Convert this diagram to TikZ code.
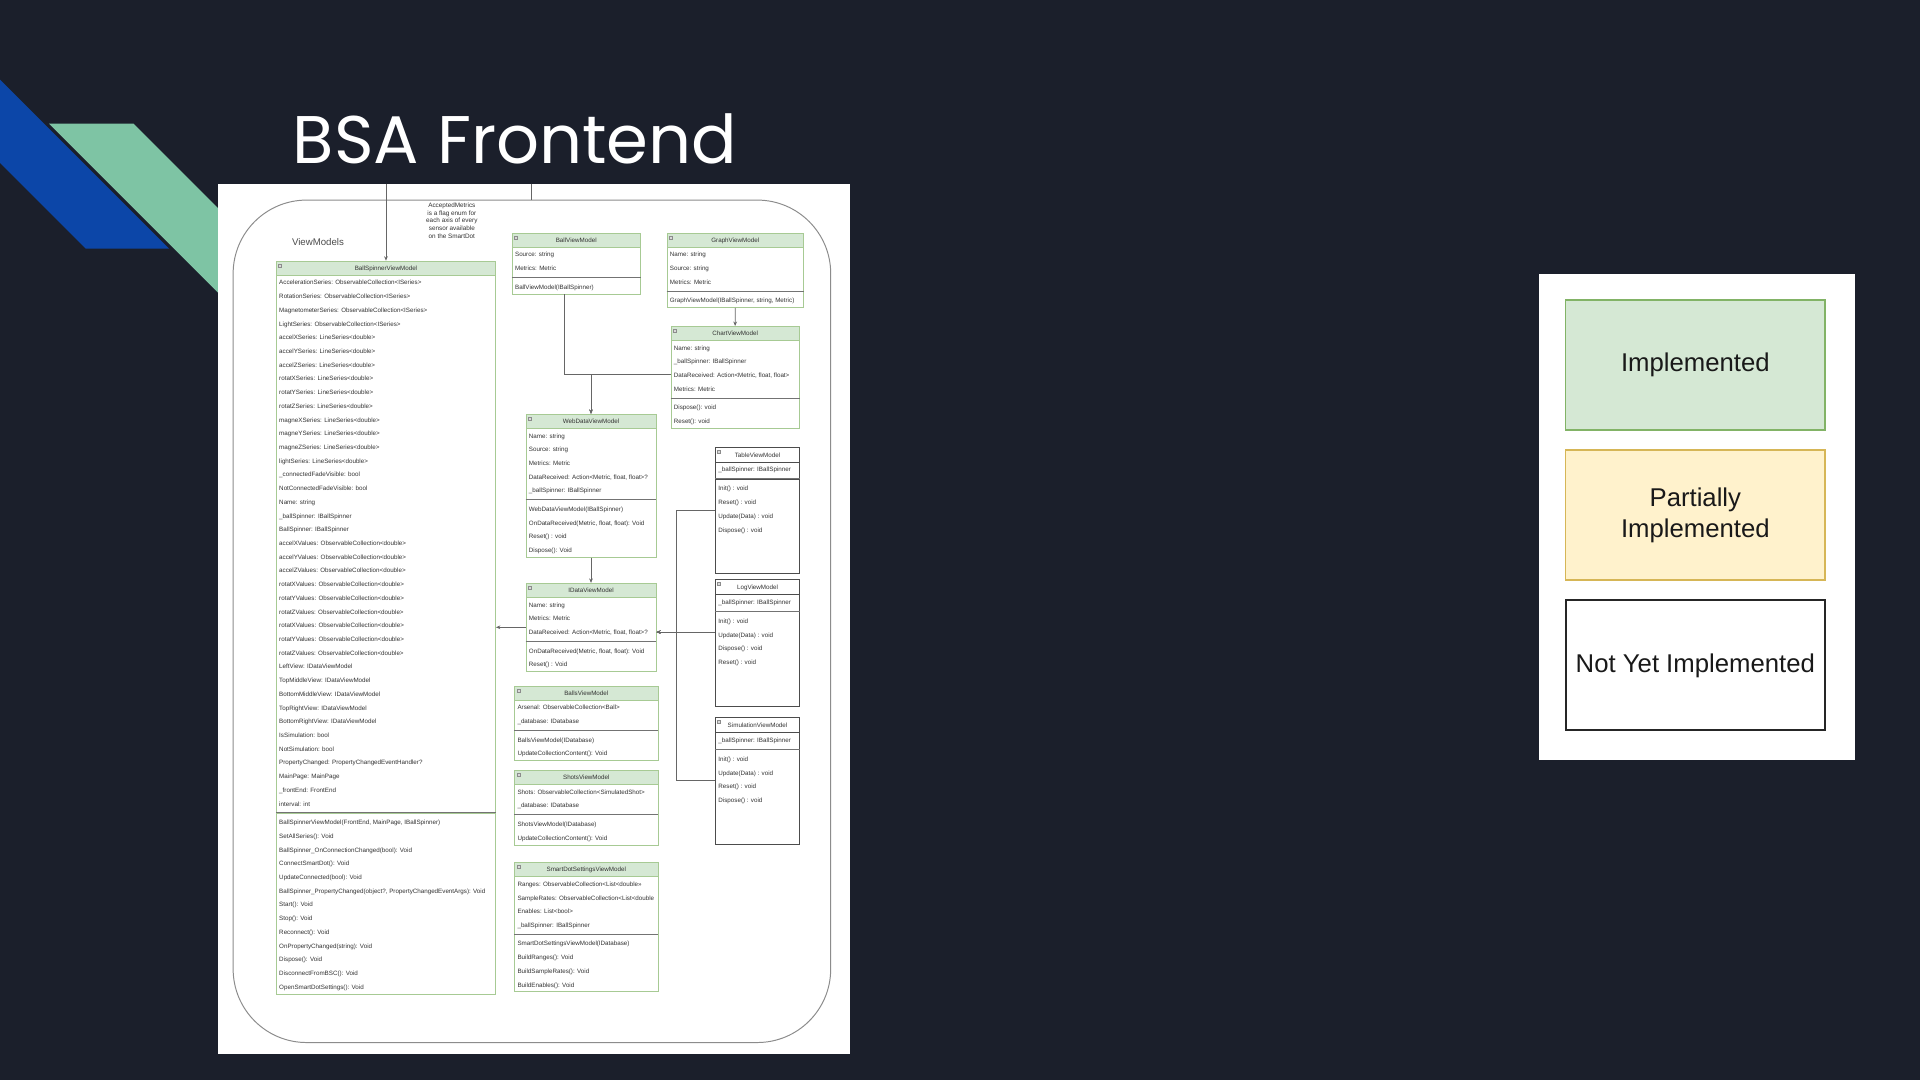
\documentclass[tikz,border=0pt]{standalone}
\usepackage{fontspec}
\setmainfont{Liberation Sans}
\newfontfamily\titlefont{Poppins}
\usetikzlibrary{shapes.multipart,arrows.meta}
\definecolor{SlideBg}{RGB}{27,31,43}
\definecolor{BandBlue}{RGB}{12,70,168}
\definecolor{BandGreen}{RGB}{126,196,164}
\definecolor{HeadGreen}{HTML}{D5E8D4}
\definecolor{LineGreen}{HTML}{82B366}
\definecolor{FillYellow}{HTML}{FFF2CC}
\definecolor{LineYellow}{HTML}{D6B656}

% struts for the class rows
\newcommand{\rowst}{\rule[-3.6pt]{0pt}{11.2pt}}
\newcommand{\fldend}{\rule[-5.3pt]{0pt}{5.3pt}}
\newcommand{\mthst}{\rule{0pt}{9.3pt}}
\newcommand{\blankend}{\rule[-33.6pt]{0pt}{0pt}}

\tikzset{
  cls/.style={rectangle split, rectangle split parts=3,
    rectangle split part align={center,left,left},
    rectangle split part fill={HeadGreen,white},
    draw=LineGreen!70, line width=0.5pt, anchor=north west,
    inner xsep=2.4pt, inner ysep=0pt, align=left, text=black!80,
    font=\fontsize{5.1}{11.2}\selectfont},
  todo/.style={cls, rectangle split part fill={white}, draw=black!70, line width=0.9pt},
  sep/.style={draw=black!55, line width=0.8pt},
  conn/.style={draw=black!60, line width=0.6pt, -{Stealth[length=3.6pt,width=3pt]}},
  wire/.style={draw=black!60, line width=0.6pt},
  icon/.style={draw=black!45, fill=black!15, line width=0.3pt},
  legbox/.style={minimum width=211.8pt, minimum height=106.2pt, line width=1pt,
    align=center, font=\fontsize{21}{25.3}\selectfont, text=black!90},
}

\begin{document}
\begin{tikzpicture}[x=1pt,y=-1pt]
  % slide
  \fill[SlideBg] (0,0) rectangle (1568,882);
  \useasboundingbox (0,0) rectangle (1568,882);
  \fill[BandBlue] (0,65) -- (138,203) -- (70,203) -- (0,133) -- cycle;
  \fill[BandGreen] (40,101) -- (109,101) -- (200,192) -- (200,261) -- cycle;
  \node[anchor=base west, inner sep=0pt, text=white, font=\titlefont\fontsize{55}{62}\selectfont] (title) at (239,133.4) {BSA Frontend};

  % diagram sheet
  \fill[white] (178,150) rectangle (694,861);
  \node[draw=black!45, line width=0.8pt, rounded corners=60pt, minimum width=488pt, minimum height=688pt, anchor=north west] (vm) at (190,163) {};
  \node[font=\fontsize{7.9}{9}\selectfont, text=black!70] (vmtitle) at (259.7,197.4) {ViewModels};
  \node[align=center, font=\fontsize{5.2}{6.4}\selectfont, text=black!80] (note) at (369,180.2) {AcceptedMetrics\\is a flag enum for\\each axis of every\\sensor available\\on the SmartDot};

  % classes
  \node[cls, minimum width=179.1pt] (bsvm) at (225.4,212.9) {\rowst BallSpinnerViewModel
    \nodepart{two}\rowst AccelerationSeries: ObservableCollection<ISeries>\\
    RotationSeries: ObservableCollection<ISeries>\\
    MagnetometerSeries: ObservableCollection<ISeries>\\
    LightSeries: ObservableCollection<ISeries>\\
    accelXSeries: LineSeries<double>\\
    accelYSeries: LineSeries<double>\\
    accelZSeries: LineSeries<double>\\
    rotatXSeries: LineSeries<double>\\
    rotatYSeries: LineSeries<double>\\
    rotatZSeries: LineSeries<double>\\
    magneXSeries: LineSeries<double>\\
    magneYSeries: LineSeries<double>\\
    magneZSeries: LineSeries<double>\\
    lightSeries: LineSeries<double>\\
    \_connectedFadeVisible: bool\\
    NotConnectedFadeVisible: bool\\
    Name: string\\
    \_ballSpinner: IBallSpinner\\
    BallSpinner: IBallSpinner\\
    accelXValues: ObservableCollection<double>\\
    accelYValues: ObservableCollection<double>\\
    accelZValues: ObservableCollection<double>\\
    rotatXValues: ObservableCollection<double>\\
    rotatYValues: ObservableCollection<double>\\
    rotatZValues: ObservableCollection<double>\\
    rotatXValues: ObservableCollection<double>\\
    rotatYValues: ObservableCollection<double>\\
    rotatZValues: ObservableCollection<double>\\
    LeftView: IDataViewModel\\
    TopMiddleView: IDataViewModel\\
    BottomMiddleView: IDataViewModel\\
    TopRightView: IDataViewModel\\
    BottomRightView: IDataViewModel\\
    IsSimulation: bool\\
    NotSimulation: bool\\
    PropertyChanged: PropertyChangedEventHandler?\\
    MainPage: MainPage\\
    \_frontEnd: FrontEnd\\
    interval: int\fldend
    \nodepart{three}\mthst BallSpinnerViewModel(FrontEnd, MainPage, IBallSpinner)\\
    SetAllSeries(): Void\\
    BallSpinner\_OnConnectionChanged(bool): Void\\
    ConnectSmartDot(): Void\\
    UpdateConnected(bool): Void\\
    BallSpinner\_PropertyChanged(object?, PropertyChangedEventArgs): Void\\
    Start(): Void\\
    Stop(): Void\\
    Reconnect(): Void\\
    OnPropertyChanged(string): Void\\
    Dispose(): Void\\
    DisconnectFromBSC(): Void\\
    OpenSmartDotSettings(): Void\rowst};

  \node[cls, minimum width=104.7pt] (ballvm) at (418,190) {\rowst BallViewModel
    \nodepart{two}\rowst Source: string\\
    Metrics: Metric\fldend
    \nodepart{three}\mthst BallViewModel(IBallSpinner)\rowst};

  \node[cls, minimum width=111.6pt] (graphvm) at (544.4,190) {\rowst GraphViewModel
    \nodepart{two}\rowst Name: string\\
    Source: string\\
    Metrics: Metric\fldend
    \nodepart{three}\mthst GraphViewModel(IBallSpinner, string, Metric)\rowst};

  \node[cls, minimum width=104.8pt] (chartvm) at (547.7,266.2) {\rowst ChartViewModel
    \nodepart{two}\rowst Name: string\\
    \_ballSpinner: IBallSpinner\\
    DataReceived: Action<Metric, float, float>\\
    Metrics: Metric\fldend
    \nodepart{three}\mthst Dispose(): void\\
    Reset(): void\rowst};

  \node[cls, minimum width=106.2pt] (webvm) at (429.3,338) {\rowst WebDataViewModel
    \nodepart{two}\rowst Name: string\\
    Source: string\\
    Metrics: Metric\\
    DataReceived: Action<Metric, float, float>?\\
    \_ballSpinner: IBallSpinner\fldend
    \nodepart{three}\mthst WebDataViewModel(IBallSpinner)\\
    OnDataReceived(Metric, float, float): Void\\
    Reset() : void\\
    Dispose(): Void\rowst};

  \node[cls, minimum width=106.2pt] (idatavm) at (429.3,476) {\rowst IDataViewModel
    \nodepart{two}\rowst Name: string\\
    Metrics: Metric\\
    DataReceived: Action<Metric, float, float>?\fldend
    \nodepart{three}\mthst OnDataReceived(Metric, float, float): Void\\
    Reset() : Void\rowst};

  \node[todo, minimum width=68.6pt] (tablevm) at (583.9,364.8) {\rowst TableViewModel
    \nodepart{two}\rowst \_ballSpinner: IBallSpinner\fldend
    \nodepart{three}\mthst Init() : void\\
    Reset() : void\\
    Update(Data) : void\\
    Dispose() : void\blankend};

  \node[todo, minimum width=68.6pt] (logvm) at (583.9,473) {\rowst LogViewModel
    \nodepart{two}\rowst \_ballSpinner: IBallSpinner\fldend
    \nodepart{three}\mthst Init() : void\\
    Update(Data) : void\\
    Dispose() : void\\
    Reset() : void\blankend};

  \node[todo, minimum width=68.6pt] (simvm) at (583.9,585.8) {\rowst SimulationViewModel
    \nodepart{two}\rowst \_ballSpinner: IBallSpinner\fldend
    \nodepart{three}\mthst Init() : void\\
    Update(Data) : void\\
    Reset() : void\\
    Dispose() : void\blankend};

  \node[cls, minimum width=117.1pt] (ballsvm) at (420,560) {\rowst BallsViewModel
    \nodepart{two}\rowst Arsenal: ObservableCollection<Ball>\\
    \_database: IDatabase\fldend
    \nodepart{three}\mthst BallsViewModel(IDatabase)\\
    UpdateCollectionContent(): Void\rowst};

  \node[cls, minimum width=117.1pt] (shotsvm) at (420,628.8) {\rowst ShotsViewModel
    \nodepart{two}\rowst Shots: ObservableCollection<SimulatedShot>\\
    \_database: IDatabase\fldend
    \nodepart{three}\mthst ShotsViewModel(IDatabase)\\
    UpdateCollectionContent(): Void\rowst};

  \node[cls, minimum width=117.1pt] (sdsvm) at (420,704) {\rowst SmartDotSettingsViewModel
    \nodepart{two}\rowst Ranges: ObservableCollection<List<double>>\\
    SampleRates: ObservableCollection<List<double\\
    Enables: List<bool>\\
    \_ballSpinner: IBallSpinner\fldend
    \nodepart{three}\mthst SmartDotSettingsViewModel(IDatabase)\\
    BuildRanges(): Void\\
    BuildSampleRates(): Void\\
    BuildEnables(): Void\rowst};

  % separators and header icons
  \foreach \c in {bsvm,ballvm,graphvm,chartvm,webvm,idatavm,tablevm,logvm,simvm,ballsvm,shotsvm,sdsvm}{
    \draw[sep] (\c.two split west) -- (\c.two split east);
    \draw[icon] ([shift={(2,2.6)}]\c.north west) rectangle ++(2.6,2.4);
  }

  % connectors
  \coordinate (topa) at (315,150);
  \coordinate (topb) at (433.8,150);
  \coordinate (bend) at (460.6,305.4);
  \coordinate (tgt) at ([yshift=-3.9pt]idatavm.east);
  \coordinate (rail) at (tgt -| 552,0);
  \draw[conn] (bsvm.north |- topa) -- (bsvm.north);
  \draw[wire] (topb) -- (topb |- vm.north);
  \draw[conn] (graphvm.south) -- (chartvm.north);
  \draw[conn] (bend |- ballvm.south) -- (bend) -| (webvm.north);
  \draw[conn] (chartvm.west |- bend) -| (webvm.north);
  \draw[conn] (webvm.south) -- (idatavm.north);
  \draw[conn] (idatavm.west) -- (idatavm.west -| bsvm.east);
  \draw[conn] (logvm.west |- tgt) -- (tgt);
  \draw[conn] ([yshift=0.2pt]tablevm.west) -| (rail) -- (tgt);
  \draw[conn] ([yshift=0.2pt]simvm.west) -| (rail) -- (tgt);

  % legend
  \fill[white] (1257,224) rectangle (1515,620.7);
  \node[legbox, fill=HeadGreen, draw=LineGreen] (impl) at (1384.5,298.1) {Implemented};
  \node[legbox, fill=FillYellow, draw=LineYellow] (partial) at (1384.5,420.6) {Partially\\Implemented};
  \node[legbox, fill=white, draw=black!85, line width=1.5pt] (notyet) at (1384.5,543.4) {Not Yet Implemented};
\end{tikzpicture}
\end{document}
